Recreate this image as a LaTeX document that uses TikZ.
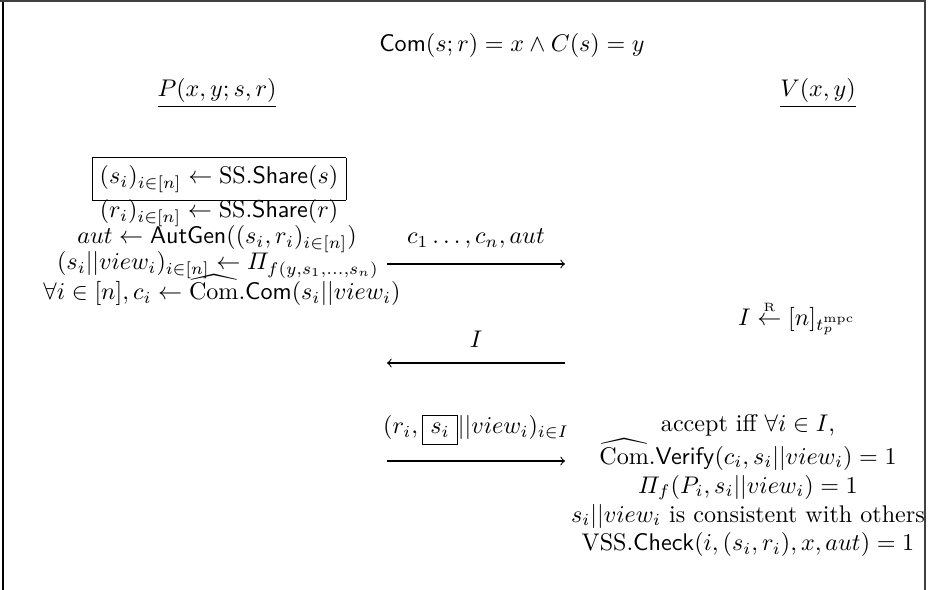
\documentclass[tikz,border=0pt]{standalone}
\usepackage{amsmath,amssymb}
\tikzset{
  txt/.style={inner sep=0pt, outer sep=0pt},
  msg/.style={->, line width=0.45pt},
  frameline/.style={line width=0.7pt, draw=black!75},
}
\begin{document}
\begin{tikzpicture}[x=0.415pt,y=-0.415pt]
\useasboundingbox (0,0) rectangle (935,590);
% frame
\coordinate (ftl) at (3,0); \coordinate (fbl) at (3,590);
\coordinate (ftl2) at (0,1); \coordinate (ftr) at (925,1);
\coordinate (frt) at (925,0); \coordinate (frb) at (925,590);
\draw[frameline, draw=black, line width=0.9pt] (ftl) -- (fbl);
\draw[frameline] (ftl2) -- (ftr);
\draw[frameline] (frt) -- (frb);
% header
\node[txt] (title) at (512,45) {$\mathsf{Com}(s;r) = x \wedge C(s) = y$};
\node[txt] (P) at (217,93) {$\underline{P(x,y;s,r)}$};
\node[txt] (V) at (818,93) {$\underline{V(x,y)}$};
% prover column
\node[txt] (l1) at (219,179) {\fbox{$(s_i)_{i\in[n]} \leftarrow \mathrm{SS}.\mathsf{Share}(s)$}};
\node[txt] (l2) at (219,213) {$(r_i)_{i\in[n]} \leftarrow \mathrm{SS}.\mathsf{Share}(r)$};
\node[txt] (l3) at (217,239) {$aut \leftarrow \mathsf{AutGen}((s_i,r_i)_{i\in[n]})$};
\node[txt] (l4) at (218,265) {$(s_i||view_i)_{i\in[n]} \leftarrow \varPi_{f(y,s_1,\ldots,s_n)}$};
\node[txt] (l5) at (222,290) {$\forall i\in[n], c_i \leftarrow \widehat{\mathrm{Com}}.\mathsf{Com}(s_i||view_i)$};
% messages
\coordinate (m1s) at (387,264); \coordinate (m1e) at (565,264);
\draw[msg] (m1s) -- (m1e) node[midway, above=3pt] (m1l) {$c_1\ldots,c_n,aut$};
\node[txt] (sample) at (797,318) {$I \overset{\scriptscriptstyle\mathrm{R}}{\leftarrow} [n]_{t_p^{\mathrm{mpc}}}$};
\coordinate (m2s) at (565,363); \coordinate (m2e) at (387,363);
\draw[msg] (m2s) -- (m2e) node[midway, above=3pt] (m2l) {$I$};
\coordinate (m3s) at (387,461); \coordinate (m3e) at (565,461);
\draw[msg] (m3s) -- (m3e) node[midway, above=3pt] (m3l) {$(r_i,\fbox{$s_i$}||view_i)_{i\in I}$};
% verifier check
\node[txt, align=center] (acc) at (748,486) {accept iff $\forall i\in I$,\\
$\widehat{\mathrm{Com}}.\mathsf{Verify}(c_i,s_i||view_i) = 1$\\
$\varPi_f(P_i,s_i||view_i) = 1$\\
$s_i||view_i$ is consistent with others\\
$\mathrm{VSS}.\mathsf{Check}(i,(s_i,r_i),x,aut) = 1$};
\end{tikzpicture}
\end{document}
